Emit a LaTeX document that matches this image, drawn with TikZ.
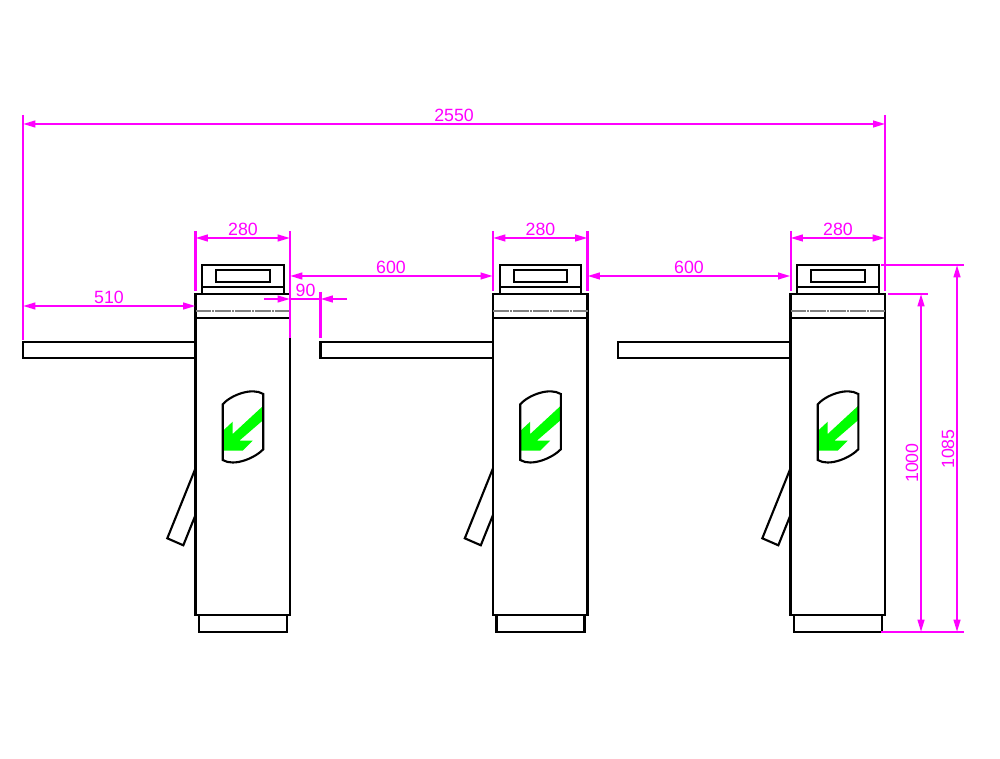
\documentclass[tikz,border=0pt]{standalone}
\usepackage{fontspec}
\setmainfont{Liberation Sans}
\usetikzlibrary{arrows.meta}
\definecolor{dimcol}{RGB}{255,0,255}
\definecolor{signgreen}{RGB}{0,255,0}
\tikzset{
    outline/.style={line width=1.2pt, black},
    dimline/.style={line width=1.15pt, dimcol},
    dimarrow/.style={dimline, {Stealth[inset=0pt,length=7pt,width=3.8pt]}-{Stealth[inset=0pt,length=7pt,width=3.8pt]}},
    halfarrow/.style={dimline, -{Stealth[inset=0pt,length=7pt,width=3.8pt]}},
    dimtext/.style={text=dimcol, font=\fontsize{10.1}{11}\selectfont, inner sep=0pt},
}
\begin{document}
\begin{tikzpicture}[x=0.02cm, y=-0.02cm]

    %% Background
    \useasboundingbox (0,0) rectangle (1000,759);

    % Turnstiles
    \foreach \x/\w in {0/0,297.5/1,595/2}
    {
    \begin{scope}[xshift=\x*0.02cm]
    % sign
    \fill[signgreen] (263.3,405.7) -- (263.3,420) -- (239.3,440.7) -- (252.7,440.7)
    -- (242.7,450.7) -- (223,450.7) -- (223,430.7) -- (232.7,421.7) -- (232.7,434) -- cycle;
    \draw[outline] (222.7,404.3) .. controls (231,395) and (252,387) .. (263.3,394)
    -- (263.3,449.3) .. controls (255,458) and (234,467) .. (222.7,460) -- cycle;

    % body
    \draw[outline] (195.5,294) rectangle (290,615);
    \draw[outline] (195.5,317.7) to (290,317.7);
    \draw[line width=1.1pt, gray, dash pattern=on 9.07pt off 0.57pt on 1.1pt off 0.6pt] (195.5,310.7) to (290,310.7);
    \draw[outline] (199,615) rectangle (287,632);

    % head
    \draw[outline] (202.3,294) to (202.3,265) to (283.7,265) to (283.7,294);
    \draw[outline] (202.3,287.3) to (283.7,287.3);
    \draw[outline] (216.3,270.3) rectangle (269.7,282.3);

    % arms
    \draw[outline] (195.5,342) to (23,342) to (23,358) to (195.5,358);
    \draw[outline] (195.5,468.3) to (167.3,538.3) to (183.3,545.3) to (195.5,515);

    % width
    \draw[dimarrow] (195.5,238) to (290,238);
    \draw[dimline] (195.5,231) to (195.5,291);
    \draw[dimline] (290,231) to (290,291);
    \node[dimtext] (width\w) at (243,229) {280};
    \end{scope}
    }

    % Overall length
    \draw[dimarrow] (23,124) to (885.3,124);
    \draw[dimline] (23,115) to (23,340);
    \draw[dimline] (885.3,115) to (885.3,291);
    \node[dimtext] (overall) at (454,115) {2550};

    % Spacing
    \draw[dimarrow] (290,276) to (492.8,276);
    \draw[dimarrow] (587.5,276) to (790.3,276);
    \node[dimtext] (gapa) at (391,267) {600};
    \node[dimtext] (gapb) at (689,267) {600};
    \draw[dimarrow] (23,306) to (195.5,306);
    \node[dimtext] (reach) at (109,297) {510};

    % Arm offset
    \draw[dimline] (290,291) to (290,338);
    \draw[dimline] (320.5,292) to (320.5,338);
    \draw[halfarrow] (264,299) to (290,299);
    \draw[halfarrow] (347,299) to (320.5,299);
    \draw[dimline] (290,299) to (320.5,299);
    \node[dimtext] (offset) at (305.5,290) {90};

    % Heights
    \draw[dimline] (881,265) to (964,265);
    \draw[dimline] (888,294) to (928,294);
    \draw[dimline] (881,632) to (964,632);
    \draw[dimarrow] (921,294) to (921,632);
    \draw[dimarrow] (957,265) to (957,632);
    \node[dimtext, rotate=90] (body) at (912,463) {1000};
    \node[dimtext, rotate=90] (total) at (948,449) {1085};

\end{tikzpicture}
\end{document}
